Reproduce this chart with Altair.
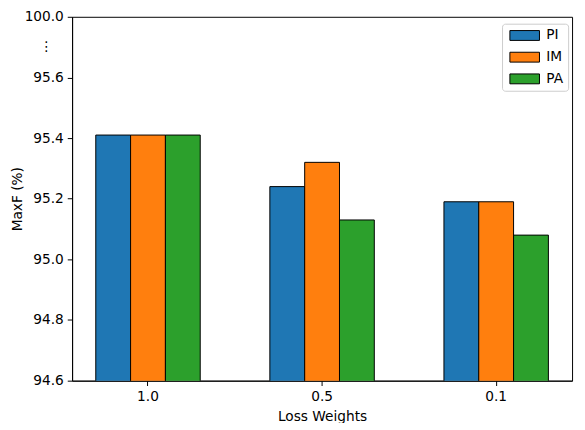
import altair as alt
import pandas as pd

weights = ["1.0", "0.5", "0.1"]
methods = ["PI", "IM", "PA"]
pi_vals = [95.41, 95.24, 95.19]
im_vals = [95.41, 95.32, 95.19]
pa_vals = [95.41, 95.13, 95.08]
colors = ["#1f77b4", "#ff7f0e", "#2ca02c"]
y_ticks = [94.6, 94.8, 95.0, 95.2, 95.4, 95.6, 95.8]
break_label = "100.0"
break_mark = "⋮"

rows = []
for m, vals in zip(methods, [pi_vals, im_vals, pa_vals]):
    for w, v in zip(weights, vals):
        rows.append({"weight": w, "method": m, "value": v})
df = pd.DataFrame(rows)

FONT = "DejaVu Sans"
FS = 13.9

bars = alt.Chart(df).mark_bar(stroke="black", strokeWidth=1, opacity=1, clip=True).encode(
    x=alt.X("weight:N", sort=weights,
            scale=alt.Scale(paddingInner=0.4, paddingOuter=0.136),
            axis=alt.Axis(title="Loss Weights", labelAngle=0, titlePadding=7)),
    xOffset=alt.XOffset("method:N", sort=methods,
                        scale=alt.Scale(paddingInner=0, paddingOuter=0)),
    y=alt.Y("value:Q",
            scale=alt.Scale(domain=[94.6, 95.8], zero=False, nice=False),
            axis=alt.Axis(values=y_ticks, title="MaxF (%)", grid=False, titlePadding=0,
                          labelExpr=f"datum.value > 95.75 ? '{break_label}' : format(datum.value, '.1f')")),
    color=alt.Color("method:N", sort=methods,
                    scale=alt.Scale(domain=methods, range=colors),
                    legend=alt.Legend(title=None, orient="none", legendX=436, legendY=7,
                                      symbolType="M-2,-1H4V1H-2Z", symbolSize=100,
                                      symbolStrokeColor="black", symbolStrokeWidth=1,
                                      symbolOpacity=1, symbolOffset=6,
                                      labelFontSize=FS, labelFont=FONT,
                                      labelColor="black", labelOffset=20, rowPadding=7,
                                      padding=5, strokeColor="#cccccc", cornerRadius=3,
                                      fillColor="white")),
)

dots = alt.Chart(pd.DataFrame({"t": [break_mark]})).mark_text(
    font=FONT, fontSize=FS, color="black", align="center", baseline="middle"
).encode(
    x=alt.value(-26),
    y=alt.datum(95.7),
    text="t:N",
)

chart = alt.layer(bars, dots).properties(
    width=507, height=369,
    autosize=alt.AutoSizeParams(type="none"),
    padding={"left": 65, "top": 6, "right": 5, "bottom": 40},
).configure_view(
    stroke="black", strokeWidth=1
).configure_axis(
    labelFont=FONT, titleFont=FONT, labelFontSize=FS, titleFontSize=FS,
    titleFontWeight="normal", labelColor="black", titleColor="black",
    domainColor="black", tickColor="black", tickSize=4.9, labelPadding=4,
    grid=False
)

chart.save("out.html", embed_options={"renderer": "svg", "actions": False})
